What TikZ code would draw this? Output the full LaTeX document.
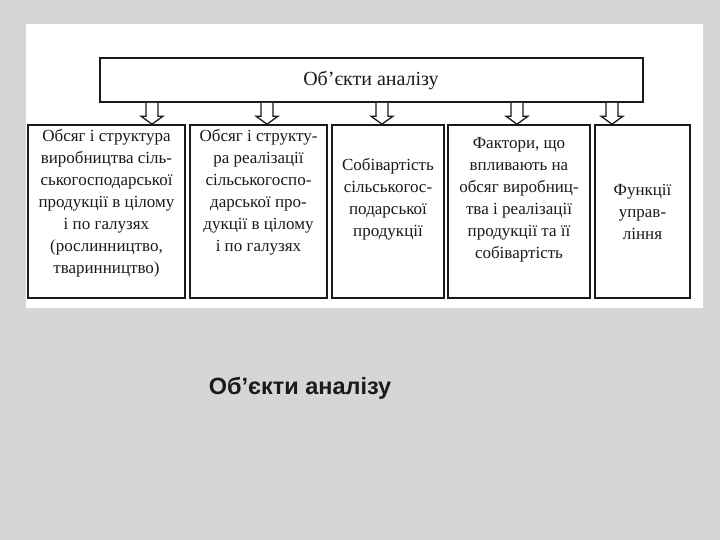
\documentclass[tikz,border=0pt]{standalone}
\usepackage{fontspec}
\setmainfont{Liberation Serif}
\newfontfamily\capfont{Liberation Sans}
\usetikzlibrary{calc}
\definecolor{slidegray}{HTML}{D6D6D6}
\definecolor{inkgray}{HTML}{1A1A1A}
\tikzset{
  boxsty/.style={draw=inkgray, line width=1.6pt, inner sep=0pt, fill=white},
  txtsty/.style={align=center, inner sep=0pt, text=inkgray, font=\fontsize{17}{22}\selectfont},
  arrowsty/.style={draw=inkgray, line width=1.3pt, fill=white, line join=miter},
}
\newcommand\blockarr[2]{%
  \draw[arrowsty] ($(top.south -| #1)+(-6,0)$) -- ($(#2.north -| #1)+(-6,8)$) -- ++(-5,0)
    -- ($(#2.north -| #1)$) -- ++(11,8) -- ++(-5,0) -- ($(top.south -| #1)+(6,0)$);}
\begin{document}
\begin{tikzpicture}[x=1pt,y=1pt]
\useasboundingbox (0,0) rectangle (720,540);
\fill[slidegray] (0,0) rectangle (720,540);
\fill[white] (26,232) rectangle (703,516);
% top box
\node[boxsty, minimum width=543pt, minimum height=44pt] (top) at (371.5,460) {};
\node[txtsty, font=\fontsize{20}{24}\selectfont] (toptxt) at (371,459) {Об’єкти аналізу};
% lower boxes
\node[boxsty, minimum width=157pt, minimum height=173pt] (b1) at (106.5,328.5) {};
\node[boxsty, minimum width=137pt, minimum height=173pt] (b2) at (258.5,328.5) {};
\node[boxsty, minimum width=112pt, minimum height=173pt] (b3) at (388,328.5) {};
\node[boxsty, minimum width=142pt, minimum height=173pt] (b4) at (519,328.5) {};
\node[boxsty, minimum width=95pt, minimum height=173pt] (b5) at (642.5,328.5) {};
\node[txtsty] (t1) at (106.5,337) {Обсяг і структура\\виробництва сіль-\\ськогосподарської\\продукції в цілому\\і по галузях\\(рослинництво,\\тваринництво)};
\node[txtsty] (t2) at (258.5,348) {Обсяг і структу-\\ра реалізації\\сільськогоспо-\\дарської про-\\дукції в цілому\\і по галузях};
\node[txtsty] (t3) at (388,341) {Собівартість\\сільськогос-\\подарської\\продукції};
\node[txtsty] (t4) at (519,340) {Фактори, що\\впливають на\\обсяг виробниц-\\тва і реалізації\\продукції та її\\собівартість};
\node[txtsty] (t5) at (642.5,328) {Функції\\управ-\\ління};
% arrows
\coordinate (a1) at (152,0);
\coordinate (a2) at (267,0);
\coordinate (a3) at (382,0);
\coordinate (a4) at (517,0);
\coordinate (a5) at (612,0);
\blockarr{a1}{b1}
\blockarr{a2}{b2}
\blockarr{a3}{b3}
\blockarr{a4}{b4}
\blockarr{a5}{b5}
% caption
\node[inner sep=0pt, font=\capfont\bfseries\fontsize{23.5}{28}\selectfont, text=inkgray] (cap) at (300,152) {Об’єкти аналізу};
\end{tikzpicture}
\end{document}
